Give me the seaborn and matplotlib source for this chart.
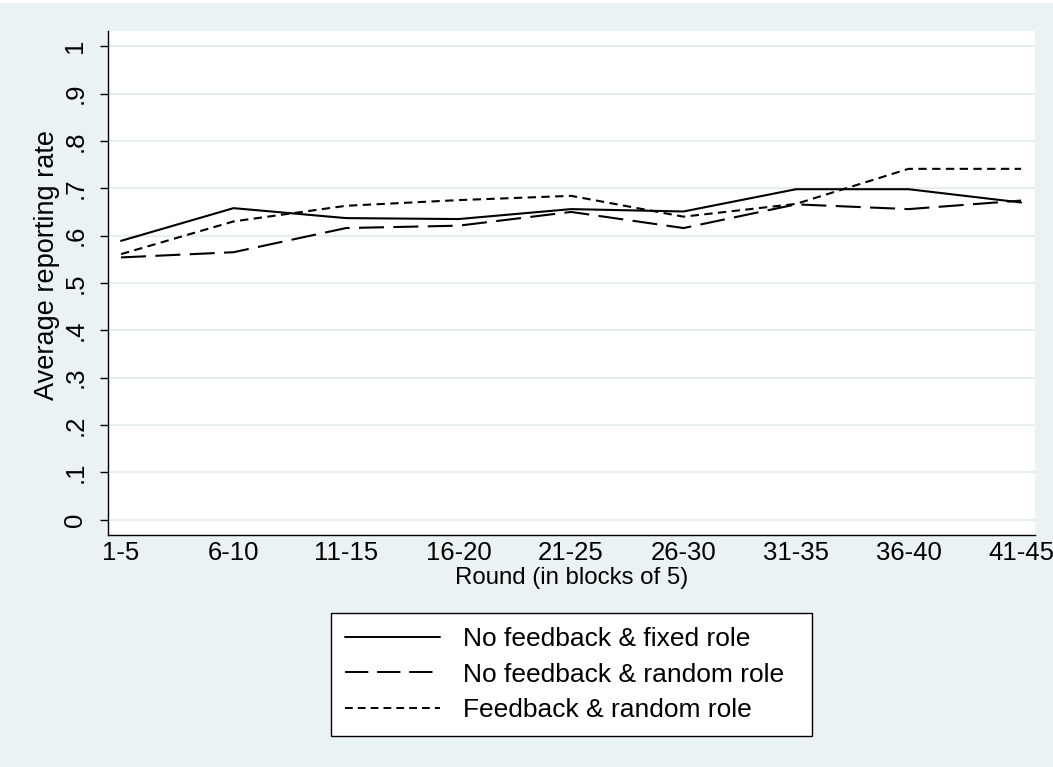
import numpy as np
import pandas as pd
import matplotlib
matplotlib.use("Agg")
import matplotlib.pyplot as plt
import seaborn as sns
from matplotlib.patches import Rectangle

# ---- data ----
rounds = ["1-5", "6-10", "11-15", "16-20", "21-25", "26-30", "31-35", "36-40", "41-45"]
nofb_fixed = [0.589, 0.658, 0.637, 0.635, 0.656, 0.651, 0.698, 0.698, 0.670]
nofb_random = [0.554, 0.565, 0.616, 0.621, 0.650, 0.616, 0.666, 0.656, 0.674]
fb_random = [0.561, 0.630, 0.663, 0.675, 0.684, 0.640, 0.667, 0.741, 0.741]
series_names = ["No feedback & fixed role", "No feedback & random role", "Feedback & random role"]
yticks = [0, 0.1, 0.2, 0.3, 0.4, 0.5, 0.6, 0.7, 0.8, 0.9, 1.0]
ytick_labels = ["0", ".1", ".2", ".3", ".4", ".5", ".6", ".7", ".8", ".9", "1"]
xlabel = "Round (in blocks of 5)"
ylabel = "Average reporting rate"

df = pd.DataFrame({
    "round": rounds * 3,
    "rate": nofb_fixed + nofb_random + fb_random,
    "series": np.repeat(series_names, len(rounds)),
})

BG = "#EAF2F3"
W, H = 1053, 767

sns.set_style("white")
plt.rcParams["font.family"] = ["Liberation Sans", "DejaVu Sans"]
plt.rcParams["text.color"] = "black"
plt.rcParams["axes.labelcolor"] = "black"
plt.rcParams["xtick.color"] = "black"
plt.rcParams["ytick.color"] = "black"

fig = plt.figure(figsize=(W / 100, H / 100), dpi=100, facecolor=BG)
fig.patches.append(Rectangle((0, 1 - 3 / H), 1, 3 / H, transform=fig.transFigure,
                             facecolor="white", edgecolor="none", zorder=0))

ax = fig.add_axes([108 / W, 1 - 535 / H, 927 / W, 504 / H])
ax.set_facecolor("white")

palette = {n: "black" for n in series_names}
dashes = {series_names[0]: "", series_names[1]: (12, 4.5), series_names[2]: (4, 2.6)}
sns.lineplot(data=df, x="round", y="rate", hue="series", style="series",
             palette=palette, dashes=dashes, sort=False, linewidth=1.5,
             ax=ax, legend=True)

ax.set_xlim(-0.116, 8.124)
ax.set_ylim(-0.032, 1.032)
ax.set_yticks(yticks)
ax.set_yticklabels(ytick_labels)
plt.setp(ax.get_yticklabels(), rotation=90, va="center")

for s in ["top", "right"]:
    ax.spines[s].set_visible(False)
for s in ["left", "bottom"]:
    ax.spines[s].set_color("black")
    ax.spines[s].set_linewidth(1.0)

ax.set_axisbelow(True)
ax.yaxis.grid(True, color="#E6EEF0", linewidth=1.3)
ax.xaxis.grid(False)

ax.tick_params(axis="y", left=True, length=5.8, width=1, color="black",
               pad=9.0, labelsize=18.5, labelcolor="black", direction="out")
ax.tick_params(axis="x", bottom=False, length=0, pad=4.0, labelsize=18.5,
               labelcolor="black")

ax.set_xlabel(xlabel, fontsize=17.3, color="black")
ax.set_ylabel(ylabel, fontsize=19.5, color="black")
ax.xaxis.set_label_coords(0.5, -0.063)
ax.yaxis.set_label_coords(-0.0515, 0.536)

handles, labels = ax.get_legend_handles_labels()
if ax.get_legend() is not None:
    ax.get_legend().remove()
leg = fig.legend(handles, labels, loc="center",
                 bbox_to_anchor=(331 / W, 1 - 737 / H, 481 / W, 125 / H),
                 mode="expand", frameon=True, fancybox=False, framealpha=1,
                 edgecolor="black", facecolor="white", fontsize=19,
                 borderpad=0.54, labelspacing=0.43, handlelength=3.6,
                 handletextpad=0.85, borderaxespad=0)
leg.get_frame().set_linewidth(1.0)
for line in leg.get_lines():
    line.set_linewidth(1.4)
for t in leg.get_texts():
    t.set_color("black")

fig.savefig("out.png", dpi=100, facecolor=BG)
